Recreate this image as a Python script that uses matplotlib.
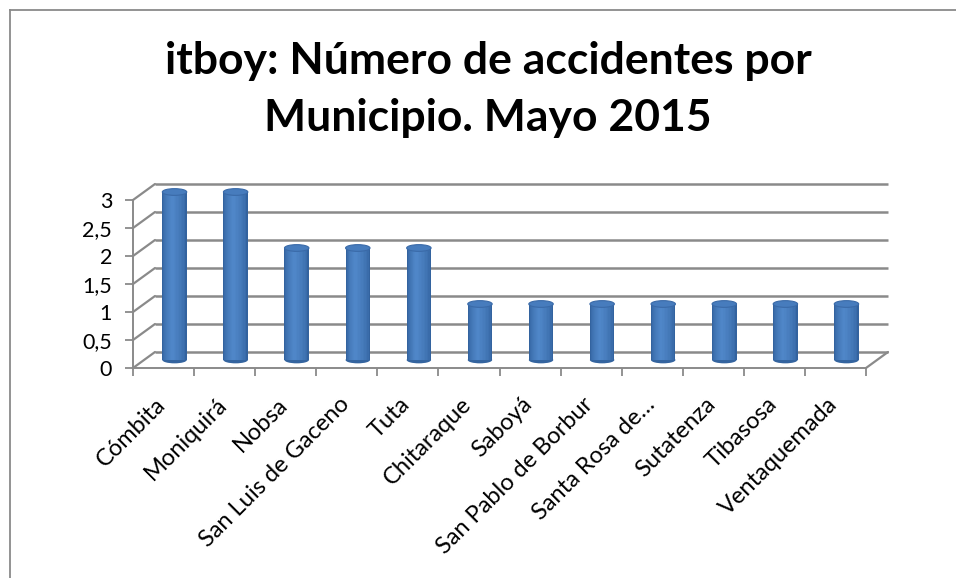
import matplotlib
matplotlib.use('Agg')
import matplotlib.pyplot as plt
import numpy as np
from matplotlib.transforms import ScaledTranslation
from matplotlib.patches import Ellipse, ConnectionPatch
from matplotlib.lines import Line2D
from matplotlib.colors import to_rgb

categories = ['Cómbita', 'Moniquirá', 'Nobsa', 'San Luis de Gaceno', 'Tuta',
              'Chitaraque', 'Saboyá', 'San Pablo de Borbur', 'Santa Rosa de…',
              'Sutatenza', 'Tibasosa', 'Ventaquemada']
values = [3, 3, 2, 2, 2, 1, 1, 1, 1, 1, 1, 1]
yticks = [0, 0.5, 1, 1.5, 2, 2.5, 3]
ytick_labels = ['0', '0,5', '1', '1,5', '2', '2,5', '3']
title = 'itboy: Número de accidentes por\nMunicipio. Mayo 2015'

plt.rcParams['font.family'] = ['Lato', 'DejaVu Sans']
GRID = '#8a8a8a'

W, H = 956, 578
fig = plt.figure(figsize=(W / 100, H / 100), dpi=100)
fig.patch.set_facecolor('white')

ax = fig.add_axes([133 / W, (H - 368) / H, (866 - 133) / W, 168 / H])
ax.set_xlim(-0.5, len(categories) - 0.5)
ax.set_ylim(0, 3)
ax.patch.set_alpha(0)

# depth offsets (in px at dpi 100)
back = ax.transData + ScaledTranslation(22 / 100, 16 / 100, fig.dpi_scale_trans)
mid = ax.transData + ScaledTranslation(11 / 100, 8 / 100, fig.dpi_scale_trans)

# spines and ticks
for s in ['top', 'right']:
    ax.spines[s].set_visible(False)
for s in ['left', 'bottom']:
    ax.spines[s].set_color(GRID)
    ax.spines[s].set_linewidth(1.4)
ax.set_yticks(yticks, ytick_labels)
ax.set_xticks(np.arange(-0.5, len(categories), 1))
ax.set_xticklabels([])
ax.tick_params(axis='both', colors=GRID, length=6, width=1.3, labelcolor='black',
               labelsize=15.5)
ax.tick_params(axis='y', pad=9)

# back wall gridlines
xmin, xmax = -0.5, len(categories) - 0.5
for y in yticks:
    ax.plot([xmin, xmax], [y, y], transform=back, color=GRID, lw=1.8,
            clip_on=False, zorder=1, solid_capstyle='butt')
    cp = ConnectionPatch(xyA=(xmin, y), coordsA=ax.transData,
                         xyB=(xmin, y), coordsB=back,
                         color=GRID, lw=1.6, zorder=1)
    fig.add_artist(cp)
# floor right edge
fig.add_artist(ConnectionPatch(xyA=(xmax, 0), coordsA=ax.transData,
                               xyB=(xmax, 0), coordsB=back,
                               color=GRID, lw=1.6, zorder=1))

# cylinders
x = np.arange(len(categories))
bw = 0.40
cap_h = 0.12
dark = np.array(to_rgb('#33639f'))
light = np.array(to_rgb('#4f86c8'))
nlev = 10
# bottom caps
for xi in x:
    ax.add_patch(Ellipse((xi, 0), bw, cap_h, transform=mid, facecolor='#34649f',
                         edgecolor='none', zorder=3, clip_on=False))
for k in range(nlev):
    frac = 1 - k / nlev
    t = (k / (nlev - 1)) ** 0.6
    col = dark * (1 - t) + light * t
    ax.bar(x - 0.04 * (1 - frac), values, width=bw * frac, bottom=0,
           color=col, edgecolor='none', transform=mid, zorder=4 + k * 0.01,
           clip_on=False)
for xi, v in zip(x, values):
    ax.add_patch(Ellipse((xi, v), bw, cap_h, transform=mid, facecolor='#477cbd',
                         edgecolor='#3a6aa8', lw=0.8, zorder=5, clip_on=False))

# category labels
lab_tr = ax.transData + ScaledTranslation(-1 / 100, -33 / 100, fig.dpi_scale_trans)
for xi, lab in zip(x, categories):
    ax.text(xi, 0, lab, transform=lab_tr, rotation=45, ha='right', va='center',
            rotation_mode='anchor', fontsize=17, color='black')

# title (two lines, placed by baseline)
for line, base in zip(title.split('\n'), [74, 131]):
    fig.text(488 / W, 1 - base / H, line, ha='center', va='baseline', fontsize=32,
             fontweight='bold', color='black')

# outer border (left and top)
fig.add_artist(Line2D([9.5 / W, 9.5 / W], [0, 1 - 9.5 / H], transform=fig.transFigure,
                      color=GRID, lw=1.3))
fig.add_artist(Line2D([9.5 / W, 1], [1 - 9.5 / H, 1 - 9.5 / H], transform=fig.transFigure,
                      color=GRID, lw=1.3))

fig.savefig('out.png', dpi=100)
